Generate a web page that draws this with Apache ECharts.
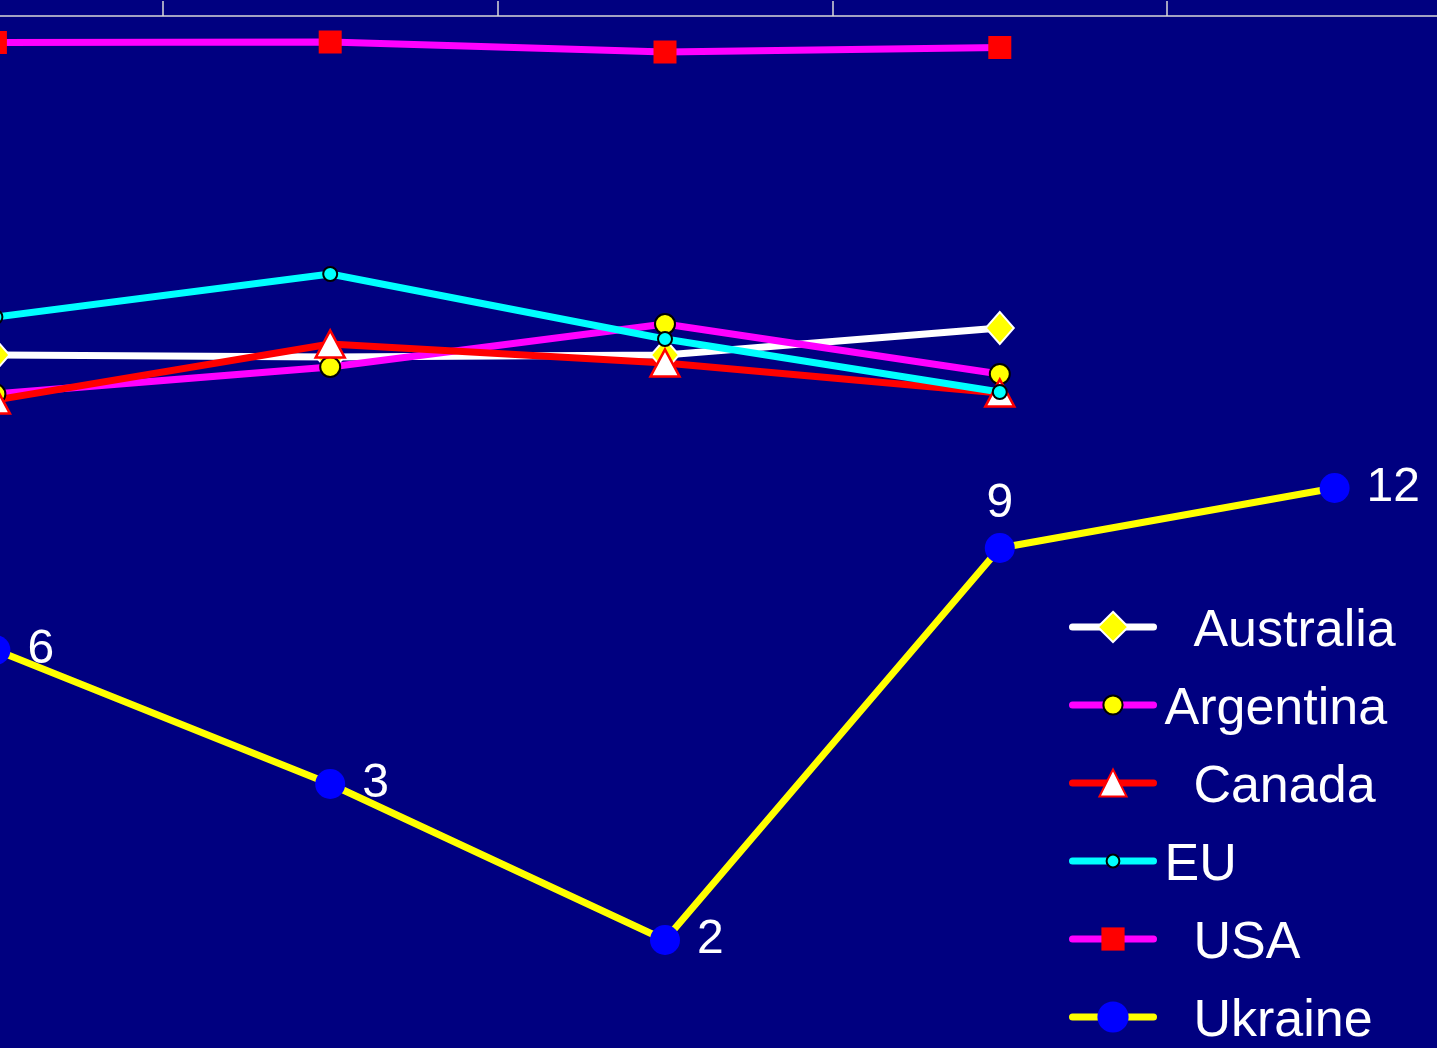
<!DOCTYPE html>
<html>
<head>
<meta charset="utf-8">
<script src="https://cdn.jsdelivr.net/npm/echarts@6/dist/echarts.min.js"></script>
<style>
html,body{margin:0;padding:0;background:#000080;}
#chart{width:1437px;height:1048px;}
</style>
</head>
<body>
<div id="chart"></div>
<script>
// Categories (axis labels lie outside the visible crop)
const categories = ['P1', 'P2', 'P3', 'P4', 'P5'];

// Series values (arbitrary vertical units 0-100)
const australia = [66.1, 65.9, 66.1, 68.8, null];
const argentina = [62.2, 64.9, 69.2, 64.2, null];
const canada    = [61.6, 67.2, 65.3, 62.3, null];
const eu        = [69.9, 74.2, 67.7, 62.4, null];
const usa       = [97.35, 97.4, 96.4, 96.85, null];
const ukraine   = [36.6, 23.2, 7.6, 46.8, 52.8];

// Data labels shown on the Ukraine series
const ukraineLabels = [6, 3, 2, 9, 12];

const legendNames = ['Australia', 'Argentina', 'Canada', 'EU', 'USA', 'Ukraine'];
const legendPads  = ['  ', '', '  ', '', '  ', '  '];
const legendIconH = [38, 24, 34, 16, 29, 39];

const FONT = '"Liberation Sans", Arial, Helvetica, sans-serif';

const chart = echarts.init(document.getElementById('chart'));

function lineSeries(name, data, color, symbol, size, fill, border, borderW, extra) {
  return Object.assign({
    name: name,
    type: 'line',
    data: data,
    symbol: symbol,
    symbolSize: size,
    showAllSymbol: true,
    connectNulls: false,
    lineStyle: { color: color, width: 7, cap: 'round', join: 'round' },
    itemStyle: { color: fill, borderColor: border, borderWidth: borderW },
    emphasis: { disabled: true }
  }, extra || {});
}

const option = {
  backgroundColor: '#000080',
  animation: false,
  grid: { left: -172, right: -65, top: 16, height: 1000, containLabel: false, outerBoundsMode: 'none' },
  xAxis: {
    type: 'category',
    data: categories,
    position: 'top',
    boundaryGap: true,
    axisLine: { show: true, onZero: false, lineStyle: { color: '#d8d8d8', width: 1.5 } },
    axisTick: { show: true, length: 15, lineStyle: { color: '#d8d8d8', width: 1.5 } },
    axisLabel: { show: false },
    splitLine: { show: false }
  },
  yAxis: {
    type: 'value',
    min: 0,
    max: 100,
    show: false,
    splitLine: { show: false }
  },
  legend: legendNames.map((n, i) => ({
    data: [n],
    orient: 'vertical',
    left: 1069,
    top: 627 + 78 * i - 31,
    padding: 0,
    itemWidth: 81,
    itemHeight: legendIconH[i],
    formatter: '{t|' + legendPads[i] + '{name}}',
    lineStyle: { width: 7, cap: 'round' },
    textStyle: {
      color: '#ffffff', fontSize: 52, lineHeight: 52, fontFamily: FONT,
      rich: { t: { color: '#ffffff', fontSize: 52, lineHeight: 52, fontFamily: FONT, padding: [10, 0, 0, 6] } }
    }
  })),
  series: [
    lineSeries('Australia', australia, '#ffffff', 'diamond', [28, 32], '#ffff00', '#ffffff', 2),
    lineSeries('Argentina', argentina, '#ff00ff', 'circle', 20, '#ffff00', '#000000', 2),
    lineSeries('Canada', canada, '#ff0000', 'triangle', [29, 27], '#ffffff', '#ff0000', 2.5),
    lineSeries('EU', eu, '#00ffff', 'circle', 14, '#00ffff', '#000000', 2),
    lineSeries('USA', usa, '#ff00ff', 'rect', 23, '#ff0000', '#ff0000', 0),
    lineSeries('Ukraine', ukraine, '#ffff00', 'circle', 30, '#0000ff', '#0000ff', 0, {
      label: {
        show: true,
        position: 'right',
        distance: 17,
        color: '#ffffff',
        fontSize: 48,
        fontFamily: FONT,
        formatter: p => String(ukraineLabels[p.dataIndex])
      },
      data: ukraine.map((v, i) => i === 3
        ? { value: v, label: { position: 'top', distance: 5 } }
        : v)
    })
  ]
};

chart.setOption(option);
</script>
</body>
</html>
